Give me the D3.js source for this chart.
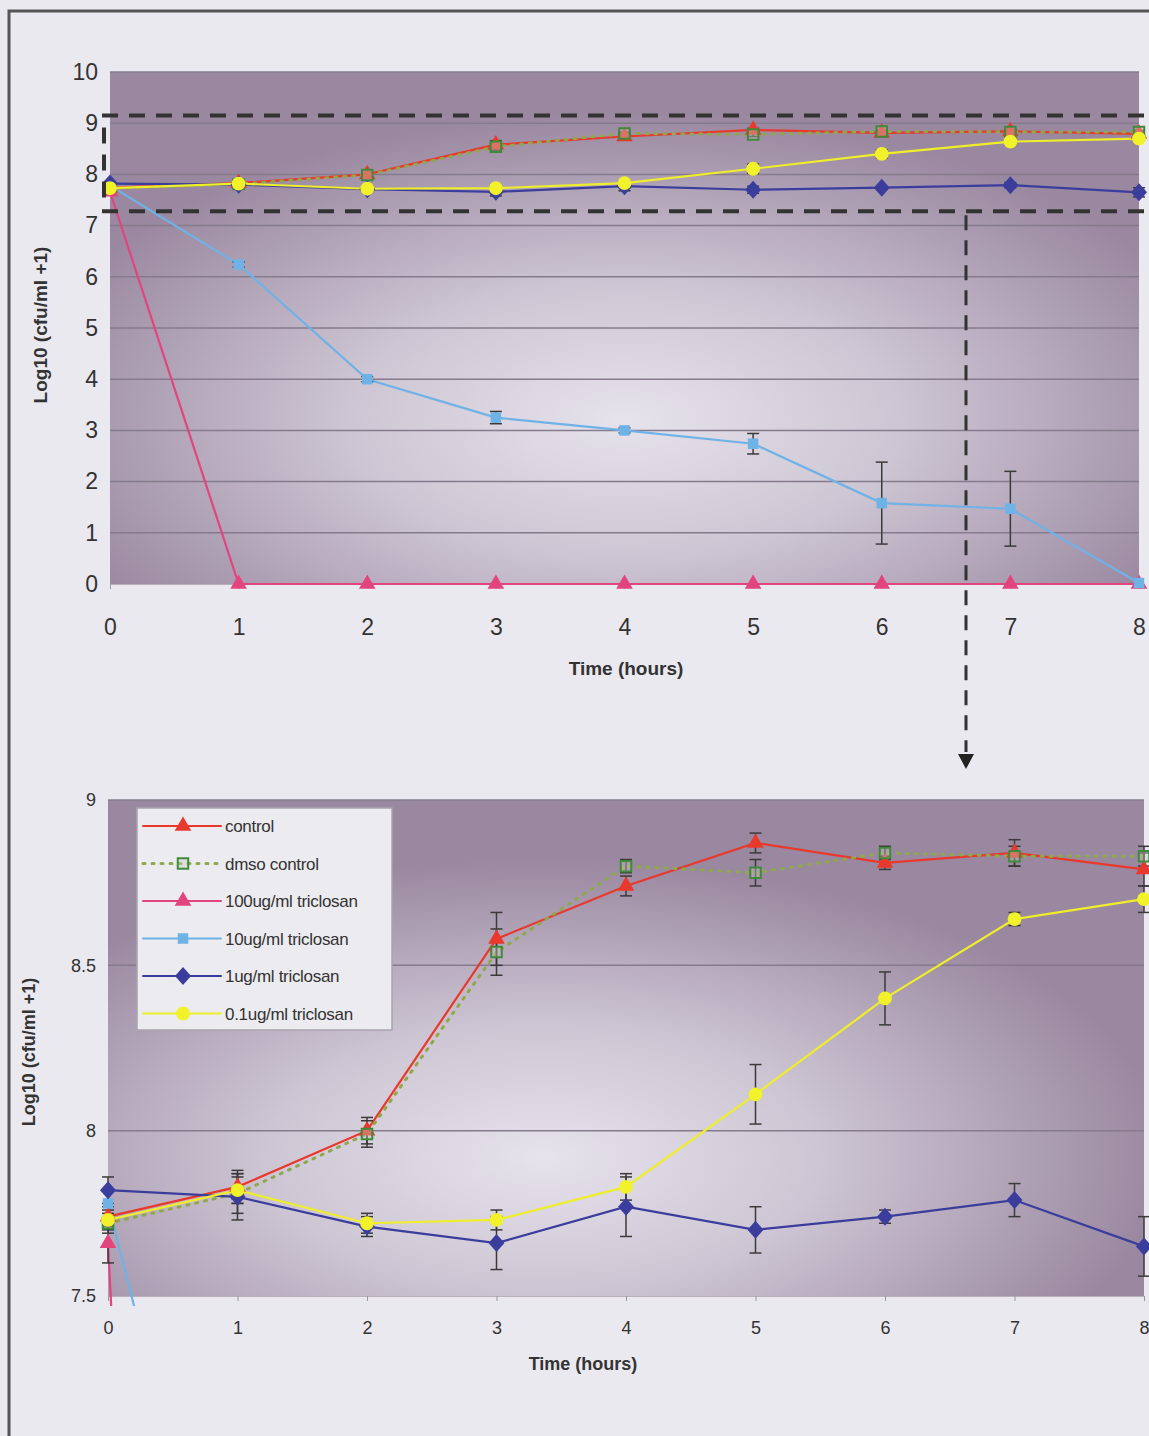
<!DOCTYPE html>
<html>
<head>
<meta charset="utf-8">
<script src="https://cdn.jsdelivr.net/npm/d3@7"></script>
<style>
  body { margin: 0; background: #ebe9f0; }
  svg { display: block; font-family: "Liberation Sans", Arial, sans-serif; }
</style>
</head>
<body>
<svg width="1149" height="1436"></svg>
<script>
// time points (hours)
const hours = [0, 1, 2, 3, 4, 5, 6, 7, 8];

// log10 (cfu/ml +1)
const control    = [7.74, 7.83, 8.00, 8.58, 8.74, 8.87, 8.81, 8.84, 8.79];
const dmso       = [7.72, 7.81, 7.99, 8.54, 8.80, 8.78, 8.84, 8.83, 8.83];
const t100       = [7.66, 0, 0, 0, 0, 0, 0, 0, 0];
const t10        = [7.78, 6.24, 4.00, 3.25, 3.00, 2.74, 1.58, 1.47, 0.02];
const t1         = [7.82, 7.80, 7.71, 7.66, 7.77, 7.70, 7.74, 7.79, 7.65];
const t01        = [7.73, 7.82, 7.72, 7.73, 7.83, 8.11, 8.40, 8.64, 8.70];

// error bars (half width, same units)
const controlErr = [0.03, 0.05, 0.04, 0.08, 0.03, 0.03, 0.02, 0.04, 0.05];
const dmsoErr    = [0.03, 0.06, 0.04, 0.07, 0.02, 0.04, 0.02, 0.03, 0.03];
const t100Err    = [0.06, 0, 0, 0, 0, 0, 0, 0, 0];
const t10Err     = [0.04, 0.05, 0.05, 0.12, 0.05, 0.20, 0.80, 0.73, 0];
const t1Err      = [0.04, 0.07, 0.03, 0.08, 0.09, 0.07, 0.02, 0.05, 0.09];
const t01Err     = [0.03, 0.04, 0.03, 0.03, 0.04, 0.09, 0.08, 0.02, 0.04];

const seriesNames = ["control", "dmso control", "100ug/ml triclosan", "10ug/ml triclosan", "1ug/ml triclosan", "0.1ug/ml triclosan"];

const topTicks = [0, 1, 2, 3, 4, 5, 6, 7, 8, 9, 10];
const zoomTicks = [7.5, 8, 8.5, 9];
const zoomRange = [7.28, 9.15]; // dashed box in upper chart

const series = [
  { name: seriesNames[0], v: control, e: controlErr, color: "#e8392c", dash: null, marker: "triangle", fill: "#e8392c" },
  { name: seriesNames[1], v: dmso, e: dmsoErr, color: "#8fa84c", dash: "2,7", marker: "square-open", fill: "none", stroke: "#3f8a3a" },
  { name: seriesNames[2], v: t100, e: t100Err, color: "#e2457e", dash: null, marker: "triangle", fill: "#e2457e" },
  { name: seriesNames[3], v: t10, e: t10Err, color: "#6fb2e6", dash: null, marker: "square", fill: "#6fb2e6" },
  { name: seriesNames[4], v: t1, e: t1Err, color: "#3b3d9c", dash: null, marker: "diamond", fill: "#3b3d9c" },
  { name: seriesNames[5], v: t01, e: t01Err, color: "#eeee2a", dash: null, marker: "circle", fill: "#f2f22a" }
];

const svg = d3.select("svg");
const defs = svg.append("defs");

// page frame
svg.append("path").attr("d", "M9,1436 V11 H1149")
  .attr("fill", "none").attr("stroke", "#555").attr("stroke-width", 3);

function plotGradient(id, cx, cy, r) {
  const g = defs.append("radialGradient").attr("id", id)
    .attr("cx", cx).attr("cy", cy).attr("r", r);
  g.append("stop").attr("offset", "0%").attr("stop-color", "#e6e3ec");
  g.append("stop").attr("offset", "45%").attr("stop-color", "#cdc5d3");
  g.append("stop").attr("offset", "100%").attr("stop-color", "#9a88a0");
}
plotGradient("bgTop", "0.5", "0.68", "0.6");
plotGradient("bgBot", "0.42", "0.72", "0.6");

function markerPath(type) {
  if (type === "triangle") return d3.symbol(d3.symbolTriangle, 120)();
  if (type === "diamond") return "M0,-9L8,0L0,9L-8,0Z";
  if (type === "circle") return d3.symbol(d3.symbolCircle, 150)();
  return d3.symbol(d3.symbolSquare, 110)();
}

function drawChart(cfg) {
  const { left, right, top, bottom, domain, ticks, tickFmt, fontSize, gridTicks, id } = cfg;
  const x = d3.scaleLinear().domain([0, 8]).range([left, right]);
  const y = d3.scaleLinear().domain(domain).range([bottom, top]);

  defs.append("clipPath").attr("id", "clip" + id)
    .append("rect").attr("x", left - 10).attr("y", top - 10)
    .attr("width", right - left + 20).attr("height", bottom - top + 20);

  const g = svg.append("g");
  g.append("rect").attr("x", left).attr("y", top)
    .attr("width", right - left).attr("height", bottom - top)
    .attr("fill", "url(#bg" + id + ")");

  // gridlines
  g.selectAll(".grid").data(gridTicks).enter().append("line")
    .attr("x1", left).attr("x2", right)
    .attr("y1", d => y(d)).attr("y2", d => y(d))
    .attr("stroke", "#857b8c").attr("stroke-width", 1.5);

  // axes
  const yAxis = g.append("g").attr("transform", `translate(${left},0)`)
    .call(d3.axisLeft(y).tickValues(ticks).tickFormat(tickFmt).tickSize(0).tickPadding(12));
  yAxis.select(".domain").remove();
  yAxis.selectAll("text").attr("font-size", fontSize).attr("fill", "#333");

  const xAxis = g.append("g").attr("transform", `translate(0,${bottom})`)
    .call(d3.axisBottom(x).tickValues(hours).tickFormat(d3.format("d")).tickSize(5).tickPadding(cfg.xPad));
  xAxis.select(".domain").attr("stroke", "#b8b0bc");
  xAxis.selectAll(".tick line").attr("stroke", "#999");
  xAxis.selectAll("text").attr("font-size", fontSize).attr("fill", "#333");

  g.append("text").attr("x", cfg.xTitle[0]).attr("y", cfg.xTitle[1])
    .attr("text-anchor", "middle").attr("font-weight", "bold")
    .attr("font-size", cfg.titleSize).attr("fill", "#333").text("Time (hours)");
  g.append("text")
    .attr("transform", `translate(${cfg.yTitle[0]},${cfg.yTitle[1]}) rotate(-90)`)
    .attr("text-anchor", "middle").attr("font-weight", "bold")
    .attr("font-size", cfg.titleSize).attr("fill", "#333").text("Log10 (cfu/ml +1)");

  const plot = g.append("g").attr("clip-path", `url(#clip${id})`);
  const line = d3.line().x((d, i) => x(hours[i])).y(d => y(d));

  series.forEach(s => {
    plot.append("path").datum(s.v).attr("d", line)
      .attr("fill", "none").attr("stroke", s.color)
      .attr("stroke-width", s.dash ? 3 : 2.2)
      .attr("stroke-dasharray", s.dash)
      .attr("stroke-linecap", "round");
  });

  // error bars
  series.forEach(s => {
    const eb = plot.append("g").attr("stroke", "#3a3a3a").attr("stroke-width", 1.5);
    s.v.forEach((v, i) => {
      if (!s.e[i]) return;
      const xi = x(hours[i]), y1 = y(v + s.e[i]), y2 = y(v - s.e[i]);
      eb.append("line").attr("x1", xi).attr("x2", xi).attr("y1", y1).attr("y2", y2);
      eb.append("line").attr("x1", xi - 6).attr("x2", xi + 6).attr("y1", y1).attr("y2", y1);
      eb.append("line").attr("x1", xi - 6).attr("x2", xi + 6).attr("y1", y2).attr("y2", y2);
    });
  });

  series.forEach(s => {
    const pts = s.v.map((v, i) => [hours[i], v]).filter(d => d[1] >= domain[0] - 0.05);
    plot.selectAll(null).data(pts).enter()
      .append("path")
      .attr("d", markerPath(s.marker))
      .attr("transform", d => `translate(${x(d[0])},${y(d[1])})`)
      .attr("fill", s.marker === "square-open" ? "rgba(200,200,190,0.4)" : s.fill)
      .attr("stroke", s.marker === "square-open" ? s.stroke : "none")
      .attr("stroke-width", 2);
  });
  return { x, y };
}

const topC = drawChart({
  id: "Top", left: 110, right: 1139, top: 72, bottom: 584,
  domain: [0, 10], ticks: topTicks, tickFmt: d3.format("d"), fontSize: 23,
  gridTicks: [1, 2, 3, 4, 5, 6, 7, 8, 9, 10], xPad: 30,
  xTitle: [626, 675], yTitle: [47, 325], titleSize: 19
});

const botC = drawChart({
  id: "Bot", left: 108, right: 1144, top: 800, bottom: 1296,
  domain: [7.5, 9], ticks: zoomTicks, tickFmt: d => d, fontSize: 18,
  gridTicks: [8, 8.5, 9], xPad: 20,
  xTitle: [583, 1370], yTitle: [35, 1052], titleSize: 18
});

// dashed zoom box on upper chart
const ann = svg.append("g").attr("stroke", "#333").attr("stroke-width", 4)
  .attr("stroke-dasharray", "16,11").attr("fill", "none");
const yA = topC.y(zoomRange[1]), yB = topC.y(zoomRange[0]);
ann.append("line").attr("x1", 102).attr("x2", 1149).attr("y1", yA).attr("y2", yA);
ann.append("line").attr("x1", 102).attr("x2", 1149).attr("y1", yB).attr("y2", yB);
ann.append("line").attr("x1", 104).attr("x2", 104).attr("y1", yA + 12).attr("y2", yB - 6);

// arrow down to lower chart
const ax = 966;
svg.append("line").attr("x1", ax).attr("x2", ax).attr("y1", yB + 4).attr("y2", 752)
  .attr("stroke", "#333").attr("stroke-width", 3).attr("stroke-dasharray", "15,10");
svg.append("path").attr("d", `M${ax - 8},754 L${ax + 8},754 L${ax},769 Z`).attr("fill", "#222");

// legend
const lg = svg.append("g").attr("transform", "translate(137,808)");
lg.append("rect").attr("width", 255).attr("height", 222)
  .attr("fill", "#ecebf0").attr("stroke", "#a8a4ac").attr("stroke-width", 1.5);
series.forEach((s, i) => {
  const yy = 18 + i * 37.5;
  lg.append("line").attr("x1", 6).attr("x2", 84).attr("y1", yy).attr("y2", yy)
    .attr("stroke", s.color).attr("stroke-width", s.dash ? 3 : 2)
    .attr("stroke-dasharray", s.dash).attr("stroke-linecap", "round");
  lg.append("path").attr("d", markerPath(s.marker))
    .attr("transform", `translate(46,${yy})`)
    .attr("fill", s.marker === "square-open" ? "rgba(200,200,190,0.4)" : s.fill)
    .attr("stroke", s.marker === "square-open" ? s.stroke : "none").attr("stroke-width", 2);
  lg.append("text").attr("x", 88).attr("y", yy + 6)
    .attr("font-size", 17).attr("fill", "#333").attr("letter-spacing", -0.3).text(s.name);
});
</script>
</body>
</html>
